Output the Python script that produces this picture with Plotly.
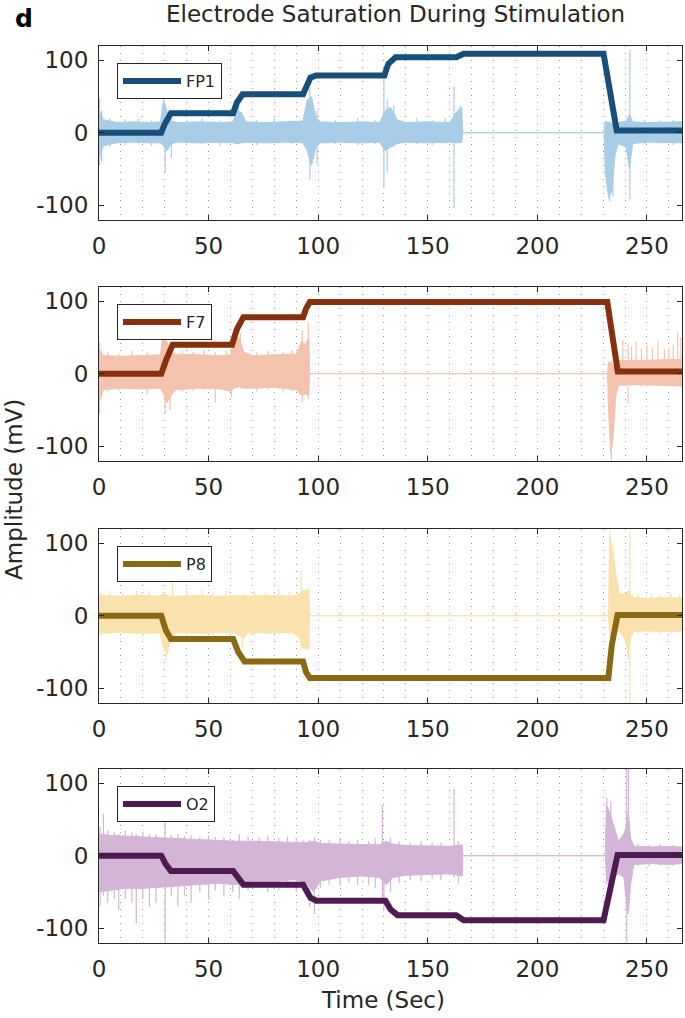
import plotly.graph_objects as go

# ---------------- data ----------------
names = ["FP1", "F7", "P8", "O2"]
dark_colors = ["#174e7a", "#86300d", "#8a6914", "#4f1a50"]
light_colors = ["#a9cde6", "#f4c3ad", "#f9e2ad", "#d3b5d6"]

# thick "saturation" traces
fp1_t = [0, 28.4, 30, 32.8, 61.2, 63, 65.5, 93.1, 96.5, 99, 130.2, 132, 135.3, 163, 166.4, 230.2, 236.2, 266]
fp1_v = [0, 0, 12, 27, 27, 42, 53, 53, 76, 79, 79, 95, 104, 104, 109, 109, 3, 3]
f7_t = [0, 28.4, 30.5, 33.6, 60.7, 63, 65.9, 93.1, 94.5, 96.2, 231.9, 236.7, 266]
f7_v = [0, 0, 18, 40, 40, 62, 78, 78, 90, 99, 99, 3, 3]
p8_t = [0, 28.4, 30.5, 32.8, 61.2, 63.5, 66.4, 93.1, 94.5, 96.2, 232.4, 234, 236.6, 266]
p8_v = [0, 0, -20, -32, -32, -50, -63, -63, -78, -86, -86, -40, 1, 1]
o2_t = [0, 28.4, 30.5, 32.8, 61.2, 63.5, 65.9, 93.1, 96.5, 99.1, 130.7, 133, 136.2, 163, 166.4, 230.2, 236.6, 266]
o2_v = [0, 0, -12, -21, -21, -32, -40, -40, -58, -62, -62, -74, -82, -82, -89, -89, 1, 1]

# raw-signal dense band (upper / lower extent of the light trace)
fp1_bt = [0, 2, 8, 16, 24, 28, 29.5, 31, 33, 36, 46, 56, 61, 63, 65, 67, 76, 86, 93, 95, 97, 99, 101, 110, 120, 128, 130.5, 133, 136, 140, 150, 160, 163.5, 165.5, 166, 230.5, 231, 232.5, 234, 235.5, 237, 240.5, 242, 243.5, 250, 258, 266]
fp1_bh = [30, 18, 14, 15, 14, 15, 45, 30, 16, 14, 15, 14, 15, 30, 28, 15, 14, 15, 16, 45, 50, 20, 15, 14, 15, 14, 30, 35, 18, 14, 15, 14, 30, 35, 0, 0, 16, 14, 12, 10, 14, 16, 25, 15, 14, 15, 15]
fp1_bl = [-35, -18, -14, -13, -14, -14, -18, -25, -15, -13, -14, -13, -14, -15, -14, -13, -14, -13, -14, -25, -45, -20, -14, -13, -14, -13, -25, -20, -15, -13, -14, -13, -14, -13, 0, 0, -55, -90, -80, -30, -15, -20, -50, -15, -13, -14, -14]

f7_bt = [0, 2, 10, 20, 28, 29, 31, 33, 35, 45, 55, 60, 61.5, 64, 66, 70, 80, 90, 92.5, 94, 95.8, 96, 232, 232.5, 233.5, 234.5, 235.8, 237, 245, 255, 266]
f7_bh = [35, 25, 24, 25, 26, 50, 45, 30, 27, 26, 25, 26, 45, 50, 30, 25, 26, 27, 45, 40, 50, 0, 0, 16, 15, 12, 10, 18, 18, 19, 20]
f7_bl = [-40, -22, -20, -21, -20, -25, -40, -30, -22, -20, -21, -24, -20, -18, -20, -20, -19, -22, -30, -28, -30, 0, 0, -50, -110, -90, -30, -16, -15, -16, -17]

p8_bt = [0, 10, 20, 28, 29, 31, 32.5, 35, 45, 55, 62, 64, 66.5, 68, 78, 88, 91.5, 93, 95.8, 96, 232.5, 233, 234.5, 236, 237.5, 240.5, 241.5, 242.5, 244, 250, 258, 266]
p8_bh = [28, 27, 28, 27, 30, 28, 27, 27, 28, 27, 28, 27, 28, 27, 28, 27, 30, 35, 35, 0, 0, 110, 90, 55, 30, 30, 35, 30, 25, 24, 25, 24]
p8_bl = [-24, -23, -24, -24, -40, -55, -35, -23, -24, -23, -24, -28, -30, -23, -24, -23, -30, -45, -45, 0, 0, -28, -25, -20, -22, -35, -60, -30, -22, -21, -22, -21]

o2_bt = [0, 5, 12, 20, 28, 35, 45, 55, 62, 70, 80, 90, 95, 98, 101, 110, 120, 128, 131, 134, 140, 150, 160, 165.8, 166, 231, 231.5, 233, 235, 237, 239.5, 240.5, 241.5, 242.5, 244, 252, 260, 266]
o2_bh = [30, 28, 27, 26, 25, 24, 22, 21, 20, 20, 19, 19, 18, 20, 17, 16, 16, 15, 20, 16, 14, 14, 13, 15, 0, 0, 70, 60, 40, 20, 30, 40, 60, 25, 13, 12, 13, 12]
o2_bl = [-50, -48, -45, -45, -43, -42, -40, -38, -40, -35, -35, -33, -40, -50, -35, -30, -28, -30, -40, -30, -27, -26, -25, -28, 0, 0, -30, -40, -30, -25, -30, -60, -80, -40, -12, -11, -12, -11]

# isolated hair-like spikes of the raw signal: (time, top, bottom)
fp1_spk_t = [0.3, 1.2, 5, 12, 18, 24, 29.5, 30.2, 33, 40, 47, 55, 63.5, 72, 80, 88, 96.2, 99.5, 108, 118, 126, 130, 131.5, 134.5, 145, 152, 158, 162, 164.8, 233, 234.5, 242.2, 249, 256, 262]
fp1_spk_h = [48, 30, 20, 18, 19, 17, 50, 20, 20, 18, 20, 17, 38, 18, 20, 17, 62, 30, 18, 20, 18, 74, 46, 38, 20, 18, 20, 64, 37, 16, 14, 114, 18, 17, 18]
fp1_spk_l = [-45, -40, -20, -17, -16, -18, -20, -55, -35, -16, -15, -18, -16, -17, -15, -16, -65, -44, -16, -17, -16, -76, -55, -20, -16, -17, -15, -104, -14, -95, -88, -92, -16, -15, -17]

f7_spk_t = [0.3, 4, 9, 15, 22, 30.2, 32.5, 38, 43, 48, 53, 58, 60.5, 64.5, 72, 77, 84, 88, 92.8, 95.5, 233.8, 239, 241.4, 243, 245, 247.5, 250, 252.5, 255, 258, 260, 262, 264, 265.5]
f7_spk_h = [44, 30, 28, 32, 30, 53, 35, 32, 30, 33, 30, 32, 30, 55, 30, 32, 30, 33, 60, 71, 18, 46, 40, 38, 44, 35, 40, 36, 46, 34, 35, 40, 57, 50]
f7_spk_l = [-55, -25, -24, -22, -28, -55, -50, -25, -24, -22, -40, -24, -32, -20, -25, -22, -26, -24, -39, -35, -120, -15, -41, -16, -15, -18, -16, -15, -14, -16, -15, -16, -15, -18]

p8_spk_t = [1, 5, 11, 17, 23, 30.5, 33.6, 40, 47, 52, 58, 65.5, 71, 76, 82, 87, 92.2, 95.5, 233.2, 242.2, 246, 252, 256, 261, 265]
p8_spk_h = [32, 34, 33, 35, 34, 30, 51, 34, 36, 33, 35, 30, 34, 33, 36, 34, 62, 39, 117, 115, 30, 31, 30, 31, 30]
p8_spk_l = [-28, -26, -25, -27, -26, -62, -24, -27, -26, -28, -26, -44, -26, -27, -26, -28, -48, -48, -30, -120, -25, -24, -26, -25, -24]

o2_spk_t = [0.5, 2, 4, 7, 9, 12, 15, 17, 20, 23, 26, 30.2, 33, 36, 39, 42, 46, 50, 53, 57, 61, 64, 68, 73, 77, 82, 86, 90, 93, 96, 98.3, 101, 105, 110, 114, 118, 123, 126, 129.3, 130, 133, 137, 142, 147, 152, 156, 162, 164, 231.7, 233.5, 240.8, 241.6, 246, 251, 256, 262]
o2_spk_h = [40, 58, 35, 33, 30, 35, 32, 30, 33, 30, 30, 53, 28, 30, 27, 28, 26, 28, 26, 25, 22, 30, 26, 25, 28, 24, 26, 25, 22, 22, 25, 22, 22, 25, 20, 22, 20, 24, 70, 20, 25, 20, 18, 20, 18, 18, 92, 20, 80, 75, 120, 120, 16, 15, 16, 15]
o2_spk_l = [-70, -55, -65, -60, -75, -60, -65, -94, -60, -70, -65, -120, -55, -70, -55, -65, -50, -60, -48, -55, -50, -60, -48, -45, -50, -48, -45, -50, -45, -70, -80, -45, -40, -42, -38, -40, -40, -45, -60, -76, -50, -38, -34, -35, -32, -34, -30, -38, -40, -45, -120, -80, -14, -15, -14, -14]

x_ticks = [0, 50, 100, 150, 200, 250]
y_ticks = [-100, 0, 100]
y_tick_labels = ["-100", "0", "100"]
x_range = [0, 266]
y_range = [-120, 120]

thick = [(fp1_t, fp1_v), (f7_t, f7_v), (p8_t, p8_v), (o2_t, o2_v)]
bands = [(fp1_bt, fp1_bh, fp1_bl), (f7_bt, f7_bh, f7_bl), (p8_bt, p8_bh, p8_bl), (o2_bt, o2_bh, o2_bl)]
spikes = [(fp1_spk_t, fp1_spk_h, fp1_spk_l), (f7_spk_t, f7_spk_h, f7_spk_l),
          (p8_spk_t, p8_spk_h, p8_spk_l), (o2_spk_t, o2_spk_h, o2_spk_l)]

# ---------------- layout ----------------
W, H = 685, 1018
FONT = "DejaVu Sans, Liberation Sans, sans-serif"
INK = "#262626"
x_dom = [99 / W, 682 / W]
panel_px = [(45.7, 219.7), (286.7, 460.7), (528.7, 702.7), (768.7, 942.7)]
GRID = "#9a9a9a"

fig = go.Figure()
layout = dict(
    width=W, height=H, margin=dict(l=0, r=0, t=0, b=0, autoexpand=False),
    paper_bgcolor="white", plot_bgcolor="white",
    font=dict(family=FONT, color=INK),
)

for i in range(4):
    sfx = "" if i == 0 else str(i + 1)
    bt, bh, bl = bands[i]
    fig.add_trace(go.Scatter(
        x=list(bt) + list(bt[::-1]), y=list(bh) + list(bl[::-1]),
        mode="lines", fill="toself", fillcolor=light_colors[i],
        line=dict(color=light_colors[i], width=1),
        showlegend=False, hoverinfo="skip", xaxis="x" + sfx, yaxis="y" + sfx))
    sx, sy = [], []
    for t, h, l in zip(*spikes[i]):
        sx += [t, t, None]
        sy += [l, h, None]
    fig.add_trace(go.Scatter(
        x=sx, y=sy, mode="lines", line=dict(color=light_colors[i], width=1.2),
        showlegend=False, hoverinfo="skip", xaxis="x" + sfx, yaxis="y" + sfx))
    st, sv = thick[i]
    fig.add_trace(go.Scatter(
        x=st, y=sv, mode="lines", name=names[i],
        line=dict(color=dark_colors[i], width=6),
        xaxis="x" + sfx, yaxis="y" + sfx, legend="legend" + sfx))

    top, bot = panel_px[i]
    layout["xaxis" + sfx] = dict(
        domain=x_dom, range=x_range, tickvals=x_ticks, anchor="y" + sfx,
        ticks="inside", ticklen=5, tickcolor=INK, mirror="ticks",
        showline=True, linecolor=INK, linewidth=1, zeroline=False,
        automargin=False, ticklabelstandoff=6,
        showgrid=True, griddash="1px,6px", gridcolor=GRID, gridwidth=1,
        minor=dict(dtick=10, tick0=0, showgrid=True, griddash="1px,6px",
                   gridcolor=GRID, gridwidth=1, ticks=""),
        tickfont=dict(size=23, color=INK, family=FONT),
    )
    layout["yaxis" + sfx] = dict(
        domain=[1 - bot / H, 1 - top / H], range=y_range,
        tickvals=y_ticks, ticktext=y_tick_labels,
        anchor="x" + sfx, ticks="inside", ticklen=5, tickcolor=INK,
        mirror="ticks", showline=True, linecolor=INK, linewidth=1,
        zeroline=False, showgrid=False, automargin=False, ticklabelstandoff=5,
        tickfont=dict(size=23, color=INK, family=FONT),
    )
    layout["legend" + sfx] = dict(
        x=117 / W, y=1 - (top + 17.5) / H, xanchor="left", yanchor="top",
        itemwidth=58,
        bgcolor="white", bordercolor=INK, borderwidth=1,
        font=dict(size=16, color=INK, family=FONT),
    )

layout["annotations"] = [
    dict(text="Electrode Saturation During Stimulation", x=395 / W, y=1 - 14 / H,
         xref="paper", yref="paper", showarrow=False,
         font=dict(size=23, color=INK, family=FONT), xanchor="center", yanchor="middle"),
    dict(text="<b>d</b>", x=13 / W, y=1 - 18 / H, xref="paper", yref="paper",
         showarrow=False, font=dict(size=25, color="black", family=FONT),
         xanchor="left", yanchor="middle"),
    dict(text="Amplitude (mV)", x=14 / W, y=1 - 490 / H, xref="paper", yref="paper",
         showarrow=False, textangle=-90, font=dict(size=23, color=INK, family=FONT),
         xanchor="center", yanchor="middle"),
    dict(text="Time (Sec)", x=383 / W, y=1 - 1000 / H, xref="paper", yref="paper",
         showarrow=False, font=dict(size=23, color=INK, family=FONT),
         xanchor="center", yanchor="middle"),
]

fig.update_layout(**layout)
fig.write_html("out.html", config={"displayModeBar": False},
               post_script="document.body.style.margin='0px';")
